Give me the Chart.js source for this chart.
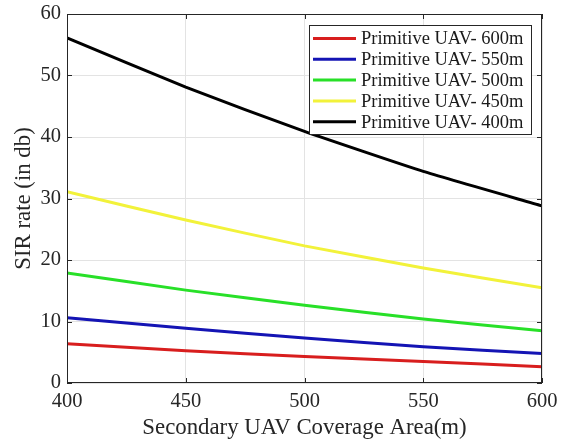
<!DOCTYPE html>
<html><head><meta charset="utf-8">
<script src="https://cdn.jsdelivr.net/npm/chart.js@4/dist/chart.umd.min.js"></script>
<style>html,body{margin:0;padding:0;background:#fff}</style>
</head><body>
<canvas id="c" width="563" height="441"></canvas>
<script>
const xValues = [400, 450, 500, 550, 600];
const sir600 = [6.4, 5.25, 4.3, 3.5, 2.65];
const sir550 = [10.6, 8.9, 7.3, 5.9, 4.8];
const sir500 = [17.9, 15.1, 12.65, 10.4, 8.5];
const sir450 = [31.1, 26.5, 22.3, 18.7, 15.5];
const sir400 = [56.1, 48.1, 40.9, 34.4, 28.8];
const seriesLabels = ['Primitive UAV- 600m','Primitive UAV- 550m','Primitive UAV- 500m','Primitive UAV- 450m','Primitive UAV- 400m'];
const xTicks = [400, 450, 500, 550, 600];
const yTicks = [0, 10, 20, 30, 40, 50, 60];
const colors = ['#d81e1e','#1414b4','#28e028','#f2f23a','#000000'];
const FONT = "'Liberation Serif', 'Times New Roman', serif";

const allSeries = [sir600, sir550, sir500, sir450, sir400];
const datasets = allSeries.map((s, i) => ({
  label: seriesLabels[i],
  data: xValues.map((x, j) => ({x: x, y: s[j]})),
  borderColor: colors[i],
  backgroundColor: colors[i],
  borderWidth: 3,
  pointRadius: 0,
  tension: 0.15,
  fill: false
}));

const boxPlugin = {
  id: 'box',
  afterDatasetsDraw(chart) {
    const {ctx, chartArea: a, scales} = chart;
    ctx.save();
    ctx.strokeStyle = '#262626';
    ctx.lineWidth = 1;
    ctx.strokeRect(a.left + 0.5, a.top + 0.5, a.right - a.left - 1, a.bottom - a.top - 1);
    ctx.beginPath();
    const tl = 5;
    xTicks.forEach(t => {
      const px = Math.round(scales.x.getPixelForValue(t)) + 0.5;
      ctx.moveTo(px, a.bottom); ctx.lineTo(px, a.bottom - tl);
      ctx.moveTo(px, a.top); ctx.lineTo(px, a.top + tl);
    });
    yTicks.forEach(t => {
      const py = Math.round(scales.y.getPixelForValue(t)) + 0.5;
      ctx.moveTo(a.left, py); ctx.lineTo(a.left + tl, py);
      ctx.moveTo(a.right, py); ctx.lineTo(a.right - tl, py);
    });
    ctx.stroke();
    // legend
    const lx = 309, ly = 25, lw = 222, lh = 109;
    ctx.fillStyle = '#fff';
    ctx.fillRect(lx, ly, lw, lh);
    ctx.strokeStyle = '#262626';
    ctx.strokeRect(lx + 0.5, ly + 0.5, lw, lh);
    ctx.font = '18.5px ' + FONT;
    ctx.textBaseline = 'middle';
    chart.data.datasets.forEach((d, i) => {
      const cy = ly + 13.5 + i * 20.8;
      ctx.strokeStyle = d.borderColor;
      ctx.lineWidth = 3;
      ctx.beginPath();
      ctx.moveTo(lx + 4, cy); ctx.lineTo(lx + 47, cy);
      ctx.stroke();
      ctx.fillStyle = '#1a1a1a';
      ctx.fillText(d.label, lx + 52, cy + 1);
    });
    ctx.restore();
  }
};

new Chart(document.getElementById('c'), {
  type: 'line',
  data: { datasets },
  options: {
    responsive: false,
    animation: false,
    layout: { padding: { top: 14, right: 21, left: 0, bottom: 0 } },
    plugins: { legend: { display: false }, tooltip: { enabled: false } },
    scales: {
      x: {
        type: 'linear', min: 400, max: 600,
        afterBuildTicks(s) { s.ticks = xTicks.map(v => ({value: v})); },
        afterFit(s) { s.height = 58; s.paddingLeft = 0; s.paddingRight = 0; },
        grid: { color: '#e3e3e3', drawTicks: false },
        border: { display: false },
        ticks: { color: '#262626', font: { family: FONT, size: 20.5 }, padding: 6, maxRotation: 0 },
        title: { display: true, text: 'Secondary UAV Coverage Area(m)', color: '#262626', font: { family: FONT, size: 22.8 }, padding: { top: 0, bottom: -1 } }
      },
      y: {
        min: 0, max: 60,
        afterBuildTicks(s) { s.ticks = yTicks.map(v => ({value: v})); },
        afterFit(s) { s.width = 67; s.paddingTop = 0; s.paddingBottom = 0; },
        grid: { color: '#e3e3e3', drawTicks: false },
        border: { display: false },
        ticks: { color: '#262626', font: { family: FONT, size: 20.5 }, padding: 6 },
        title: { display: true, text: 'SIR rate (in db)', color: '#262626', font: { family: FONT, size: 22.8 }, padding: { top: 10, bottom: 0 } }
      }
    }
  },
  plugins: [boxPlugin]
});
</script>
</body></html>
